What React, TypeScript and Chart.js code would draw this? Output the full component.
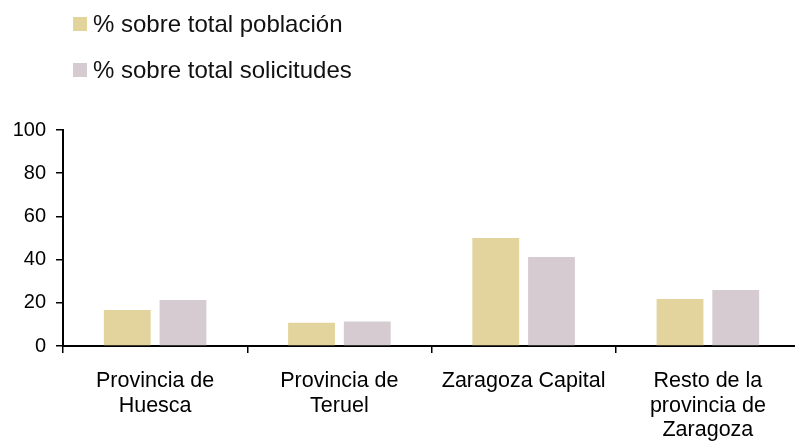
import React, { useEffect, useRef } from "react";
import { Chart, registerables } from "chart.js";

Chart.register(...registerables);

const categories: (string | string[])[] = [
  ["Provincia de", "Huesca"],
  ["Provincia de", "Teruel"],
  "Zaragoza Capital",
  ["Resto de la", "provincia de", "Zaragoza"],
];
const seriesNames = ["% sobre total población", "% sobre total solicitudes"];
const poblacion = [16.7, 10.8, 50.0, 21.8];
const solicitudes = [21.3, 11.3, 41.2, 25.9];
const colors = ["#E2D49C", "#D6CBD0"];
const yTicks = { min: 0, max: 100, step: 20 };

const FONT = "'Liberation Sans', Arial, Helvetica, sans-serif";

export default function App() {
  const ref = useRef<HTMLCanvasElement | null>(null);

  useEffect(() => {
    if (!ref.current) return;
    const chart = new Chart(ref.current, {
      type: "bar",
      data: {
        labels: categories,
        datasets: [
          {
            label: seriesNames[0],
            data: poblacion,
            backgroundColor: colors[0],
            categoryPercentage: 0.605,
            barPercentage: 0.84,
          },
          {
            label: seriesNames[1],
            data: solicitudes,
            backgroundColor: colors[1],
            categoryPercentage: 0.605,
            barPercentage: 0.84,
          },
        ],
      },
      options: {
        responsive: false,
        animation: false,
        layout: { padding: { top: 130, right: 10, left: 0, bottom: 0 } },
        plugins: {
          legend: { display: false },
          tooltip: { enabled: false },
        },
        scales: {
          x: {
            grid: {
              display: true,
              drawOnChartArea: false,
              drawTicks: true,
              tickLength: 7,
              color: "#000",
              lineWidth: 1.5,
              offset: true,
            },
            border: { display: true, color: "#000", width: 2 },
            ticks: {
              color: "#000",
              padding: 16,
              maxRotation: 0,
              autoSkip: false,
              font: { family: FONT, size: 21.5, lineHeight: 1.14 },
            },
            afterFit: (s: any) => {
              s.height = 96;
            },
          },
          y: {
            min: yTicks.min,
            max: yTicks.max,
            grid: {
              display: true,
              drawOnChartArea: false,
              drawTicks: true,
              tickLength: 7,
              color: "#000",
              lineWidth: 1.5,
            },
            border: { display: true, color: "#000", width: 2 },
            ticks: {
              stepSize: yTicks.step,
              color: "#000",
              padding: 10,
              font: { family: FONT, size: 20 },
            },
            afterFit: (s: any) => {
              s.width = 63;
            },
          },
        },
      },
    });
    return () => chart.destroy();
  }, []);

  const legendRow = (i: number, top: number) => (
    <div
      key={i}
      style={{
        position: "absolute",
        left: 73,
        top,
        height: 28,
        display: "flex",
        alignItems: "center",
        whiteSpace: "nowrap",
        fontFamily: FONT,
        fontSize: 24,
        lineHeight: "28px",
        color: "#111",
      }}
    >
      <span
        style={{
          display: "inline-block",
          width: 14,
          height: 14,
          background: colors[i],
          marginRight: 6,
        }}
      />
      <span>{seriesNames[i]}</span>
    </div>
  );

  return (
    <div
      style={{
        position: "fixed",
        left: 0,
        top: 0,
        width: 795,
        height: 442,
        overflow: "hidden",
        background: "#fff",
      }}
    >
      <canvas ref={ref} width={810} height={442} style={{ position: "absolute", left: 0, top: 0 }} />
      {legendRow(0, 10)}
      {legendRow(1, 56)}
    </div>
  );
}
